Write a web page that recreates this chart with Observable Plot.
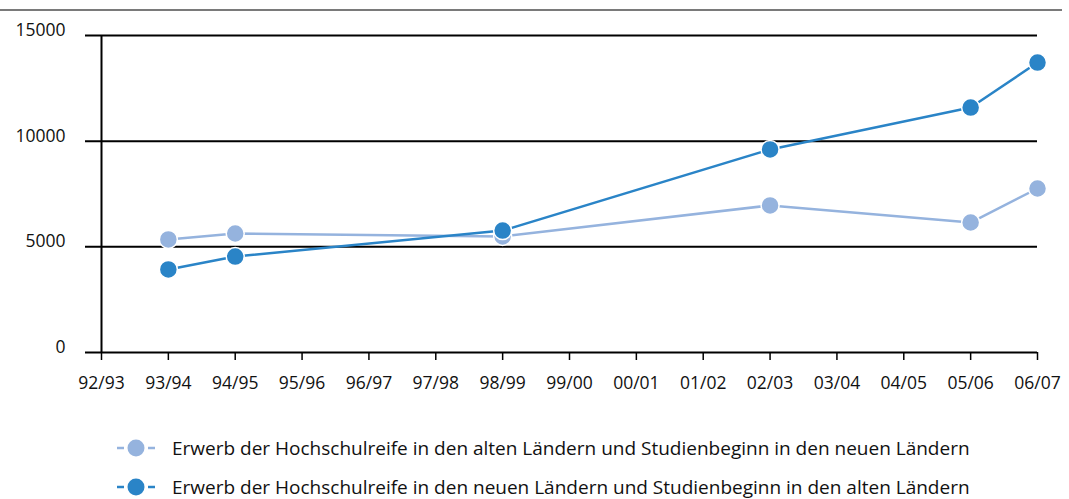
<!DOCTYPE html>
<html>
<head>
<meta charset="utf-8">
<script src="https://cdn.jsdelivr.net/npm/d3@7"></script>
<script src="https://cdn.jsdelivr.net/npm/@observablehq/plot@0.6"></script>
<style>
  html, body { margin: 0; padding: 0; background: #fff; }
  body { position: relative; width: 1069px; height: 499px; overflow: hidden; font-family: "Open Sans", sans-serif; }
  #topline { position: absolute; left: 0; top: 9px; width: 1062px; height: 0; border-top: 2px solid #7a7a7a; }
  #chart { position: absolute; left: 0; top: 0; }
  #legend { position: absolute; left: 117px; top: 436px; }
  .row { display: flex; align-items: center; height: 24px; margin-bottom: 15px; font-size: 19px; line-height: 18px; color: #111; white-space: nowrap; }
  .row svg { margin-right: 17px; flex: none; }
</style>
</head>
<body>
<div id="topline"></div>
<div id="chart"></div>
<div id="legend"></div>
<script>
const years = ["92/93","93/94","94/95","95/96","96/97","97/98","98/99","99/00","00/01","01/02","02/03","03/04","04/05","05/06","06/07"];
const seriesYears = ["93/94","94/95","98/99","02/03","05/06","06/07"];
const altNeu = [5350, 5630, 5490, 6960, 6150, 7760];
const neuAlt = [3930, 4540, 5770, 9610, 11590, 13720];
const yTicks = [0, 5000, 10000, 15000];
const seriesNames = [
  "Erwerb der Hochschulreife in den alten Ländern und Studienbeginn in den neuen Ländern",
  "Erwerb der Hochschulreife in den neuen Ländern und Studienbeginn in den alten Ländern"
];
const seriesColors = ["#95b3de", "#2a84c7"];

const data = [];
seriesYears.forEach((y, i) => data.push({year: y, value: altNeu[i], series: seriesNames[0]}));
seriesYears.forEach((y, i) => data.push({year: y, value: neuAlt[i], series: seriesNames[1]}));

const chart = Plot.plot({
  width: 1069,
  height: 400,
  marginTop: 35,
  marginBottom: 48,
  marginLeft: 101,
  marginRight: 32,
  style: {fontFamily: "Open Sans", fontSize: "17.5px", color: "black", background: "transparent"},
  x: {type: "point", domain: years, padding: 0, inset: 0, round: false, label: null},
  y: {domain: [0, 15000], label: null},
  color: {domain: seriesNames, range: seriesColors},
  marks: [
    Plot.ruleY(yTicks, {stroke: "black", strokeWidth: 2, insetLeft: -16}),
    Plot.ruleX([years[0]], {y1: 0, y2: 15000, stroke: "black", strokeWidth: 2}),
    Plot.axisX({tickSize: 8, tickPadding: 16, stroke: "black", strokeWidth: 1.5, fill: "#111", label: null}),
    Plot.axisY({ticks: yTicks, tickSize: 0, tickPadding: 36, dy: -5, fill: "#111", label: null, tickFormat: d => String(d)}),
    Plot.line(data, {x: "year", y: "value", z: "series", stroke: "series", strokeWidth: 2.5}),
    Plot.dot(data, {x: "year", y: "value", fill: "series", r: 9, stroke: "white", strokeWidth: 1.5})
  ]
});
document.getElementById("chart").appendChild(chart);

const legend = document.getElementById("legend");
seriesNames.forEach((name, i) => {
  const row = document.createElement("div");
  row.className = "row";
  row.innerHTML = `<svg width="38" height="20" viewBox="0 0 38 20">
      <line x1="0" y1="10" x2="7" y2="10" stroke="${seriesColors[i]}" stroke-width="2.5"/>
      <line x1="31" y1="10" x2="38" y2="10" stroke="${seriesColors[i]}" stroke-width="2.5"/>
      <circle cx="19" cy="10" r="8.5" fill="${seriesColors[i]}"/>
    </svg><span>${name}</span>`;
  legend.appendChild(row);
});
</script>
</body>
</html>
